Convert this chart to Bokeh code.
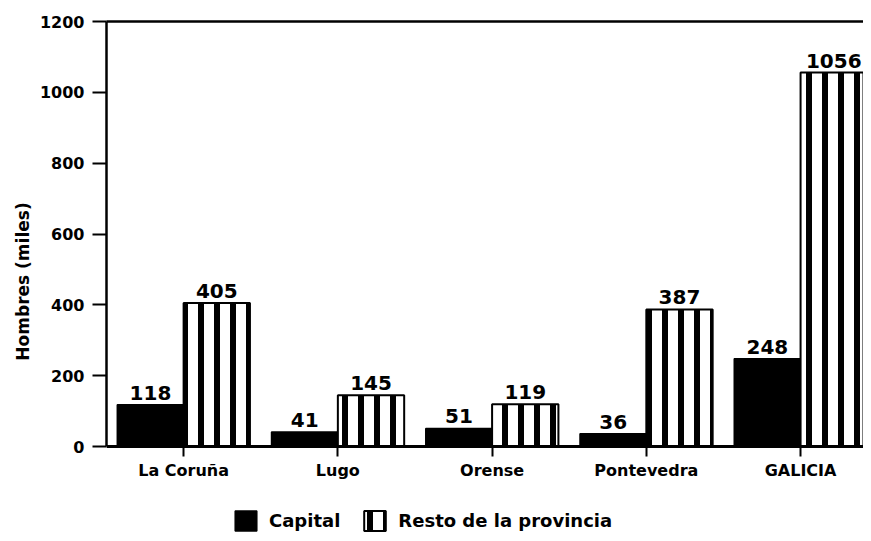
from bokeh.plotting import figure
from bokeh.models import (ColumnDataSource, FixedTicker, LinearAxis, Legend,
                          LegendItem, Range1d)
from bokeh.core.properties import value
from bokeh.embed import file_html
from bokeh.resources import INLINE

categories = ["La Coruña", "Lugo", "Orense", "Pontevedra", "GALICIA"]
capital = [118, 41, 51, 36, 248]
resto = [405, 145, 119, 387, 1056]
y_ticks = [0, 200, 400, 600, 800, 1000, 1200]

FONT = "DejaVu Sans"
idx = list(range(len(categories)))
bw = 0.43

src_cap = ColumnDataSource(dict(x=[i - bw / 2 for i in idx], top=capital,
                                txt=[str(v) for v in capital]))
src_res = ColumnDataSource(dict(x=[i + bw / 2 for i in idx], top=resto,
                                txt=[str(v) for v in resto]))

# frame spans 21..541 px; y=0 sits at 446 px, 1200 at 21 px
p = figure(width=863, height=541,
           x_range=Range1d(-0.5, 4.408), y_range=Range1d(-268.2, 1200),
           output_backend="svg", toolbar_location=None,
           min_border_left=106, min_border_right=0, min_border_top=21,
           min_border_bottom=0)
p.outline_line_color = None
p.xgrid.grid_line_color = None
p.ygrid.grid_line_color = None
p.background_fill_color = "white"
p.border_fill_color = "white"

r1 = p.vbar(x="x", top="top", width=bw, bottom=0, source=src_cap,
            fill_color="black", line_color="black", line_width=1.5)
r2 = p.vbar(x="x", top="top", width=bw, bottom=0, source=src_res,
            fill_color="white", line_color="black", line_width=2,
            hatch_pattern="vertical_line", hatch_color="black",
            hatch_scale=16, hatch_weight=6)

for s in (src_cap, src_res):
    p.text(x="x", y="top", text="txt", source=s, text_align="center",
           text_baseline="alphabetic", y_offset=-12,
           text_font=value(FONT), text_font_style="bold",
           text_font_size="20px", text_color="black")

# y axis
ya = p.yaxis[0]
ya.ticker = FixedTicker(ticks=y_ticks)
ya.bounds = (0, 1200)
ya.axis_label = "Hombres (miles)"
ya.axis_label_text_font = FONT
ya.axis_label_text_font_style = "bold"
ya.axis_label_text_font_size = "17px"
ya.axis_label_text_color = "black"
ya.axis_label_standoff = 4
ya.major_label_text_font = FONT
ya.major_label_text_font_style = "bold"
ya.major_label_text_font_size = "16px"
ya.major_label_text_color = "black"
ya.major_label_standoff = 8
ya.major_tick_out = 14
ya.major_tick_in = 0
ya.major_tick_line_width = 2
ya.minor_tick_line_color = None
ya.axis_line_width = 2.5
ya.axis_line_color = "black"

# x axis, drawn at y = 0
xa = p.xaxis[0]
xa.fixed_location = 0
xa.ticker = FixedTicker(ticks=idx)
xa.major_label_overrides = {i: c for i, c in zip(idx, categories)}
xa.major_label_text_font = FONT
xa.major_label_text_font_style = "bold"
xa.major_label_text_font_size = "16px"
xa.major_label_text_color = "black"
xa.major_label_standoff = 4
xa.major_tick_out = 10
xa.major_tick_in = 0
xa.major_tick_line_width = 2
xa.minor_tick_line_color = None
xa.axis_line_width = 3
xa.axis_line_color = "black"

# top frame line
top = LinearAxis(ticker=FixedTicker(ticks=[]), major_label_text_font_size="0px",
                 major_tick_line_color=None, minor_tick_line_color=None,
                 axis_line_width=2.5, axis_line_color="black")
p.add_layout(top, "above")

legend = Legend(items=[LegendItem(label="Capital", renderers=[r1]),
                       LegendItem(label="Resto de la provincia", renderers=[r2])],
                orientation="horizontal", location=(126, 8),
                glyph_width=27, glyph_height=25,
                label_text_font=FONT, label_text_font_style="bold",
                label_text_font_size="18px", label_text_color="black",
                border_line_color=None,
                padding=0, margin=0, spacing=21, label_standoff=10,
                background_fill_alpha=0)
p.add_layout(legend, "center")

open("out.html", "w").write(file_html(p, INLINE))
